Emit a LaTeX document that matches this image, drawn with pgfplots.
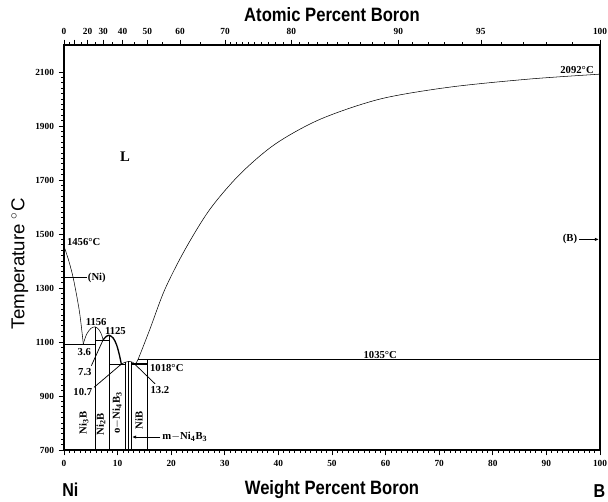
\documentclass[border=0pt]{standalone}
\usepackage{pgfplots}
\pgfplotsset{compat=1.18}
\usepackage{fontspec}
\setmainfont{Liberation Serif}
\setsansfont{Liberation Sans}
\newfontfamily\titlefont[FakeStretch=0.86]{Liberation Sans}
\usetikzlibrary{arrows.meta}

% phase-diagram annotation styles
\tikzset{
  lbl/.style={font=\fontsize{8}{9}\selectfont\bfseries, inner sep=0.5pt},
  lead/.style={line width=0.55pt},
}

\begin{document}
\begin{tikzpicture}
\begin{axis}[
  name=main,
  scale only axis,
  width=402pt, height=303.75pt,
  xmin=0, xmax=100, ymin=700, ymax=2200,
  xtick={0,10,...,100},
  ytick={700,900,...,2100},
  minor x tick num=9,
  minor y tick num=9,
  xtick pos=bottom, ytick pos=left,
  tick align=outside,
  major tick length=4pt, minor tick length=2pt,
  tick style={black, line width=0.5pt},
  axis line style={line width=1.4pt},
  ticklabel style={font=\fontsize{7}{8}\selectfont\bfseries},
  /pgf/number format/assume math mode=true,
  /pgf/number format/1000 sep={},
  xlabel={\titlefont\bfseries\fontsize{14.5}{15}\selectfont Weight Percent Boron},
  xlabel style={yshift=-4pt},
  ylabel={\sffamily\fontsize{14}{15}\selectfont Temperature $^{\circ}$C},
  ylabel style={at={(ticklabel cs:0.46)}, anchor=south, yshift=-1.5pt},
  clip=false,
  cycle list={{black, solid, line width=1pt, mark=none}},
]
% liquidus, Ni side
\addplot+[smooth] coordinates {(0,1455)(0.9,1400)(1.8,1330)(2.9,1210)(3.6,1093)};
% Ni3B dome
\addplot+[smooth] coordinates {(3.6,1093)(4.2,1128)(5.0,1150)(5.79,1156)(6.5,1146)(7.0,1128)(7.3,1108)};
% Ni2B dome
\addplot+[smooth] coordinates {(7.3,1108)(7.8,1119)(8.43,1125)(9.2,1114)(9.8,1090)(10.3,1055)(10.7,1018)};
% Ni4B3 dome
\addplot+[smooth] coordinates {(10.7,1018)(11.4,1025)(12.1,1028)(12.8,1025)(13.2,1018)};
% liquidus, B side
\addplot+[smooth] coordinates {(13.2,1018)(13.8,1035)(16.0,1146)(18.8,1294)(22.6,1443)(27.2,1591)(32.8,1721)(39.4,1833)(47.8,1925)(59,2000)(72,2044)(86.9,2074)(100,2092)};
% compound lines
\addplot coordinates {(5.79,700)(5.79,1156)};
\addplot coordinates {(8.43,700)(8.43,1125)};
\addplot coordinates {(11.5,700)(11.5,1026)};
\addplot coordinates {(12.0,700)(12.0,1028)};
\addplot coordinates {(12.6,700)(12.6,1027)};
\addplot coordinates {(15.55,700)(15.55,1035)};
% invariant isotherms
\addplot coordinates {(0,1093)(5.79,1093)};
\addplot coordinates {(5.79,1108)(8.43,1108)};
\addplot coordinates {(8.43,1018)(11.5,1018)};
\addplot coordinates {(12.6,1018)(15.55,1018)};
\addplot coordinates {(13.8,1035)(100,1035)};

% annotations
\node[lbl, anchor=west] at (axis cs:0.4,1470) {1456°C};
\draw[lead] (axis cs:0,1339) -- (axis cs:4.3,1339);
\node[lbl, anchor=west] at (axis cs:4.3,1339) {(Ni)};
\node[lbl] at (axis cs:6.0,1174) {1156};
\node[lbl] at (axis cs:9.6,1140) {1125};
\node[lbl] at (axis cs:3.8,1064) {3.6};
\node[lbl] at (axis cs:3.9,990) {7.3};
\draw[lead] (axis cs:5.1,1012) -- (axis cs:7.3,1108);
\node[lbl] at (axis cs:3.5,916) {10.7};
\draw[lead] (axis cs:5.6,932) -- (axis cs:10.7,1018);
\node[lbl] at (axis cs:17.9,923) {13.2};
\draw[lead] (axis cs:17.0,945) -- (axis cs:13.2,1018);
\node[lbl, anchor=west] at (axis cs:15.9,1005) {1018°C};
\node[lbl, anchor=south] at (axis cs:59,1036) {1035°C};
\node[lbl, anchor=south east] at (axis cs:99,2090) {2092°C};
\node[font=\fontsize{11}{12}\selectfont\bfseries] at (axis cs:11.4,1788) {L};
\node[lbl, anchor=east] at (axis cs:95.9,1480) {(B)};
\draw[lead, -{Latex[length=3pt,width=2.5pt]}] (axis cs:96.1,1480) -- (axis cs:99.8,1480);
\node[lbl, rotate=90] at (axis cs:3.7,800) {Ni\textsubscript{3}B};
\node[lbl, rotate=90] at (axis cs:6.9,795) {Ni\textsubscript{2}B};
\node[lbl, rotate=90] at (axis cs:9.9,838) {o$-$Ni\textsubscript{4}B\textsubscript{3}};
\node[lbl, rotate=90] at (axis cs:14.0,810) {NiB};
\draw[lead, -{Latex[length=3pt,width=2.5pt]}] (axis cs:18.0,748) -- (axis cs:12.7,748);
\node[lbl, anchor=west] at (axis cs:18.2,748) {m$-$Ni\textsubscript{4}B\textsubscript{3}};
\node[font=\titlefont\bfseries\fontsize{14}{15}\selectfont] at (axis cs:1.2,700) [yshift=-30pt] {Ni};
\node[font=\titlefont\bfseries\fontsize{14}{15}\selectfont] at (axis cs:99.9,700) [yshift=-31pt] {B};
\end{axis}

% atomic-percent scale along the top edge
\begin{axis}[
  scale only axis,
  width=402pt, height=303.75pt,
  xmin=0, xmax=100, ymin=0, ymax=1,
  axis x line*=top,
  axis y line=none,
  axis line style={line width=1.4pt, -},
  xtick={0,2.006,4.405,7.318,10.936,15.555,21.647,30.057,42.424,62.372,77.777,100},
  xticklabels={0,,20,30,40,50,60,70,80,90,95,100},
  minor xtick={0.960,3.148,5.785,9.023,13.096,18.375,25.488,35.591,
    31.08,32.14,33.24,34.39,36.839,38.143,39.50,40.93,43.985,45.625,47.35,49.16,
    51.070,53.08,55.21,57.46,59.84,65.063,67.930,70.990,74.264,81.551,85.623,90.025,94.801},
  tick align=outside,
  major tick length=4pt, minor tick length=2pt,
  tick style={black, line width=0.5pt},
  ticklabel style={font=\fontsize{7}{8}\selectfont\bfseries},
  /pgf/number format/assume math mode=true,
  xlabel={\titlefont\bfseries\fontsize{14.5}{15}\selectfont Atomic Percent Boron},
  xlabel style={yshift=-2pt},
]
\end{axis}

\pgfresetboundingbox
\path[use as bounding box] ([xshift=-48pt,yshift=-39pt]main.south west) rectangle ([xshift=6pt,yshift=33.75pt]main.north east);
\end{tikzpicture}
\end{document}
